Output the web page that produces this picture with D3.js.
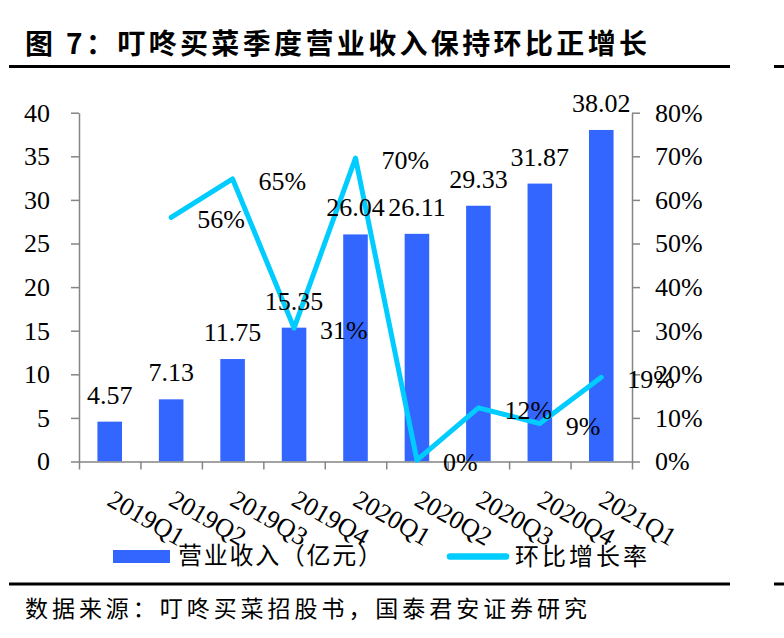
<!DOCTYPE html>
<html>
<head>
<meta charset="utf-8">
<script src="https://cdn.jsdelivr.net/npm/d3@7"></script>
<style>
  html, body { margin: 0; padding: 0; background: #fff; }
  svg { display: block; }
</style>
</head>
<body>
<svg id="chart" width="784" height="638"></svg>
<script>
// ---- data ----
const categories = ["2019Q1","2019Q2","2019Q3","2019Q4","2020Q1","2020Q2","2020Q3","2020Q4","2021Q1"];
const revenue = [4.57, 7.13, 11.75, 15.35, 26.04, 26.11, 29.33, 31.87, 38.02];
const growth = [null, 56.0, 64.8, 30.6, 69.6, 0.3, 12.3, 8.7, 19.3];
const leftTicks = [0, 5, 10, 15, 20, 25, 30, 35, 40];
const rightTicks = [0, 10, 20, 30, 40, 50, 60, 70, 80];
const titleText = "图 7：叮咚买菜季度营业收入保持环比正增长";
const sourceText = "数据来源：叮咚买菜招股书，国泰君安证券研究";
const legendBar = "营业收入（亿元）";
const legendLine = "环比增长率";

// ---- setup ----
const svg = d3.select("#chart");
const BAR = "#3366FF", LINE = "#00CCFF", AXIS = "#858585";
const serif = "'Liberation Serif','Times New Roman',serif";
const cjk = "'Noto Sans CJK SC','Noto Sans',sans-serif";
const FS = 26;
const plotL = 79, plotR = 632, plotT = 112.7, plotB = 461.5;

const x = d3.scaleBand().domain(categories).range([plotL, plotR]).paddingInner(0.6).paddingOuter(0.3);
const xIdx = d3.scaleLinear().domain([0, categories.length]).range([plotL, plotR]);
const yL = d3.scaleLinear().domain([0, 40]).range([plotB, plotT]);
const yR = d3.scaleLinear().domain([0, 80]).range([plotB, plotT]);
const cx = c => x(c) + x.bandwidth() / 2;

// title + rules
svg.append("text").attr("x", 25).attr("y", 54)
  .attr("font-family", cjk).attr("font-weight", "bold").attr("font-size", 28)
  .attr("textLength", 622).attr("lengthAdjust", "spacing")
  .text(titleText);
[[66.5],[584]].forEach(([yy]) => {
  svg.append("line").attr("x1", 9).attr("x2", 730).attr("y1", yy).attr("y2", yy)
    .attr("stroke", "#000").attr("stroke-width", 3);
  svg.append("line").attr("x1", 774).attr("x2", 784).attr("y1", yy).attr("y2", yy)
    .attr("stroke", "#000").attr("stroke-width", 3);
});

// bars
svg.append("g").selectAll("rect").data(revenue).join("rect")
  .attr("x", (d, i) => x(categories[i]))
  .attr("width", x.bandwidth())
  .attr("y", d => yL(d))
  .attr("height", d => yL(0) - yL(d))
  .attr("fill", BAR);

// axes
function styleAxis(g) {
  g.selectAll("path.domain").attr("stroke", AXIS).attr("stroke-width", 1.5);
  g.selectAll(".tick line").attr("stroke", AXIS).attr("stroke-width", 1.5);
  g.selectAll(".tick text").attr("fill", "#000").attr("font-family", serif).attr("font-size", FS);
}
svg.append("g").attr("transform", `translate(${plotL},0)`)
  .call(d3.axisLeft(yL).tickValues(leftTicks).tickSize(8).tickSizeOuter(0).tickPadding(21))
  .call(styleAxis);
svg.append("g").attr("transform", `translate(${plotR},0)`)
  .call(d3.axisRight(yR).tickValues(rightTicks).tickSize(8).tickSizeOuter(0).tickPadding(15).tickFormat(d => d + "%"))
  .call(styleAxis);
svg.append("g").attr("transform", `translate(0,${plotB})`)
  .call(d3.axisBottom(xIdx).tickValues(d3.range(categories.length + 1)).tickSize(8).tickSizeOuter(0).tickFormat(""))
  .call(styleAxis);

// x labels rotated
svg.append("g").selectAll("text").data(categories).join("text")
  .attr("transform", d => `translate(${cx(d) - 4},${plotB + 43}) rotate(30)`)
  .attr("font-family", serif).attr("font-size", FS).attr("fill", "#000")
  .text(d => d);

// line
const lineData = growth.map((g, i) => ({ c: categories[i], g })).filter(d => d.g !== null);
svg.append("path").datum(lineData)
  .attr("fill", "none").attr("stroke", LINE).attr("stroke-width", 5)
  .attr("stroke-linejoin", "round").attr("stroke-linecap", "round")
  .attr("d", d3.line().x(d => cx(d.c)).y(d => yR(d.g)));

// bar labels
svg.append("g").selectAll("text").data(revenue).join("text")
  .attr("x", (d, i) => cx(categories[i]))
  .attr("y", d => yL(d) - 18)
  .attr("text-anchor", "middle")
  .attr("font-family", serif).attr("font-size", FS).attr("fill", "#000")
  .text(d => d.toFixed(2));

// growth labels
svg.append("g").selectAll("text").data(lineData).join("text")
  .attr("x", d => cx(d.c) + 26)
  .attr("y", d => yR(d.g) + 11)
  .attr("font-family", serif).attr("font-size", FS).attr("fill", "#000")
  .text(d => Math.round(d.g) + "%");

// legend
svg.append("rect").attr("x", 113).attr("y", 550).attr("width", 57).attr("height", 13).attr("fill", BAR);
svg.append("text").attr("x", 178).attr("y", 564)
  .attr("font-family", cjk).attr("font-size", 24)
  .attr("textLength", 204).attr("lengthAdjust", "spacing")
  .text(legendBar);
svg.append("line").attr("x1", 450).attr("x2", 506).attr("y1", 556.5).attr("y2", 556.5)
  .attr("stroke", LINE).attr("stroke-width", 6.5).attr("stroke-linecap", "round");
svg.append("text").attr("x", 515).attr("y", 565)
  .attr("font-family", cjk).attr("font-size", 24)
  .attr("textLength", 132).attr("lengthAdjust", "spacing")
  .text(legendLine);

// source
svg.append("text").attr("x", 25).attr("y", 617)
  .attr("font-family", cjk).attr("font-size", 23)
  .attr("textLength", 562).attr("lengthAdjust", "spacing")
  .text(sourceText);
</script>
</body>
</html>
